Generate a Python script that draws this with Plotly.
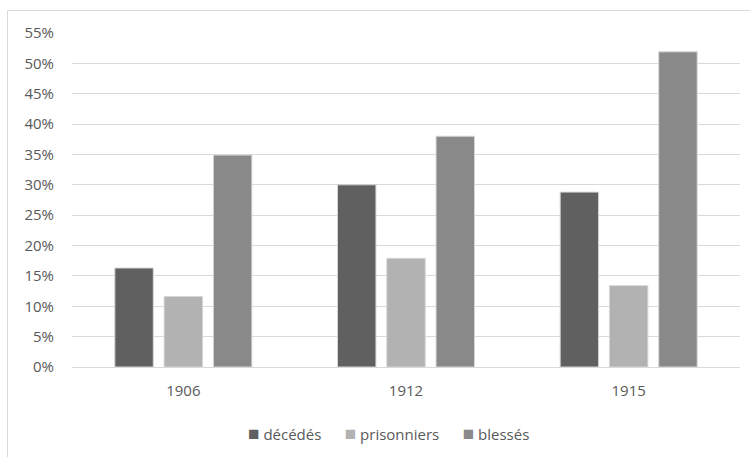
import plotly.graph_objects as go

categories = ["1906", "1912", "1915"]
series_names = ["décédés", "prisonniers", "blessés"]
decedes = [0.163, 0.300, 0.288]
prisonniers = [0.116, 0.179, 0.134]
blesses = [0.349, 0.380, 0.519]
y_ticks = [i / 100 for i in range(0, 56, 5)]

colors = ["#606060", "#b2b2b2", "#898989"]
values = [decedes, prisonniers, blesses]

W, H = 750, 457
L, R, T, B = 72, 10, 33, 90
pw, ph = W - L - R, H - T - B

FONT = "Open Sans"
TXT = "#595959"
FS = 15

fig = go.Figure()
for name, vals, col in zip(series_names, values, colors):
    fig.add_trace(go.Bar(
        x=categories, y=vals, name=name,
        marker=dict(color=col, line=dict(color="#d6d6d6", width=1)),
        showlegend=False, hoverinfo="skip",
    ))

def px_x(x):
    return (x - L) / pw

def px_y(y):
    return (H - B - y) / ph

# chart area border (left + top, continues out of view)
fig.add_shape(type="rect", xref="paper", yref="paper",
              x0=px_x(7.5), x1=px_x(800), y0=px_y(480), y1=px_y(10.5),
              line=dict(color="#d9d9d9", width=1), fillcolor="rgba(0,0,0,0)", layer="below")

legend_text = "&nbsp;&nbsp;&nbsp;&nbsp;&nbsp;&nbsp;".join(
    f"<span style='color:{c};font-size:19px'>■</span>&nbsp;{n}" for n, c in zip(series_names, colors)
)
fig.add_annotation(xref="paper", yref="paper", x=px_x(388.5), y=px_y(433),
                   text=legend_text, showarrow=False, xanchor="center", yanchor="middle",
                   font=dict(family=FONT, size=FS, color=TXT))

fig.update_layout(
    width=W, height=H,
    margin=dict(l=L, r=R, t=T, b=B),
    paper_bgcolor="white", plot_bgcolor="white",
    barmode="group", bargap=0.336, bargroupgap=0.22,
    font=dict(family=FONT, size=FS, color=TXT),
)
fig.update_yaxes(range=[0, 0.55], tickvals=y_ticks, tickformat=".0%",
                 showgrid=True, gridcolor="#d9d9d9", gridwidth=1,
                 zeroline=False, showline=False, ticks="",
                 ticklabelstandoff=17, tickfont=dict(family=FONT, size=FS, color=TXT))
fig.update_xaxes(showgrid=False, showline=True, linecolor="#d9d9d9", linewidth=1,
                 ticks="", ticklabelstandoff=10,
                 tickfont=dict(family=FONT, size=FS, color=TXT))

fig.write_html("out.html", config={"displayModeBar": False},
               post_script="document.body.style.margin='0';document.body.style.overflow='hidden';")
